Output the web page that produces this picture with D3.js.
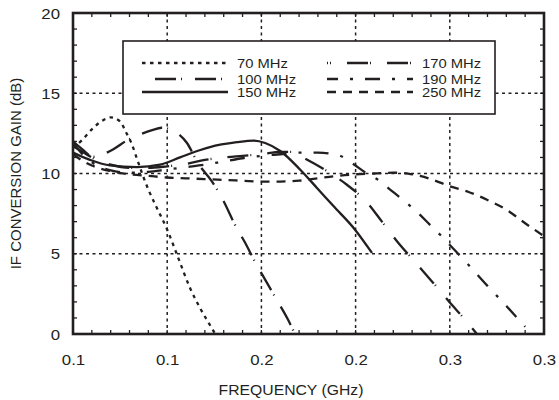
<!DOCTYPE html>
<html>
<head>
<meta charset="utf-8">
<script src="https://cdn.jsdelivr.net/npm/d3@7"></script>
<style>
  body { margin: 0; background: #fff; }
  text { font-family: "Liberation Sans", Arial, sans-serif; fill: #231f20; }
</style>
</head>
<body>
<div id="chart"></div>
<script>
// x tick values in GHz and the labels printed under them
const xTickValues = [0.05, 0.1, 0.15, 0.2, 0.25, 0.3];
const xTickLabels = ["0.1", "0.1", "0.2", "0.2", "0.3", "0.3"];
const yTickValues = [0, 5, 10, 15, 20];
const seriesNames = ["70 MHz", "100 MHz", "150 MHz", "170 MHz", "190 MHz", "250 MHz"];

// [frequency GHz, gain dB]
const if70 = [[0.05, 11.6], [0.055, 12.1], [0.06, 12.75], [0.065, 13.25], [0.07, 13.5],
  [0.075, 13.25], [0.078, 12.6], [0.081, 11.9], [0.084, 10.9], [0.087, 9.9], [0.09, 9.0],
  [0.0935, 8.1], [0.1, 6.5], [0.106, 4.7], [0.112, 2.9], [0.118, 1.5], [0.124, 0.3], [0.1255, 0]];
const if100 = [[0.05, 12.0], [0.055, 11.5], [0.0605, 11.05], [0.066, 11.2], [0.0712, 11.5],
  [0.0792, 12.1], [0.086, 12.45], [0.092, 12.7], [0.097, 12.85], [0.1025, 12.7], [0.1105, 11.9],
  [0.1163, 10.65], [0.1238, 9.5], [0.1296, 8.35], [0.136, 6.8], [0.1413, 5.7], [0.1466, 4.5],
  [0.1519, 3.4], [0.1583, 2.1], [0.1641, 0.9], [0.1678, 0]];
const if150 = [[0.05, 11.3], [0.059, 10.85], [0.0696, 10.5], [0.084, 10.4], [0.0962, 10.55],
  [0.1068, 11.0], [0.1172, 11.45], [0.1227, 11.65], [0.137, 11.95], [0.146, 12.05], [0.152, 11.9],
  [0.16, 11.4], [0.1705, 10.25], [0.1795, 9.1], [0.188, 8.0], [0.1997, 6.5], [0.2087, 5.05]];
const if170 = [[0.05, 11.7], [0.055, 11.35], [0.06, 11.0], [0.07, 10.55], [0.08, 10.35],
  [0.09, 10.35], [0.1, 10.45], [0.11, 10.6], [0.12, 10.85], [0.13, 11.0], [0.14, 11.1],
  [0.15, 11.2], [0.16, 11.35], [0.166, 11.35], [0.172, 11.0], [0.1848, 10.15], [0.1954, 9.3],
  [0.206, 8.2], [0.214, 7.0], [0.2225, 5.7], [0.2315, 4.5], [0.2411, 3.2], [0.249, 2.1],
  [0.2591, 0.75], [0.2644, 0]];
const if190 = [[0.05, 11.9], [0.055, 11.2], [0.06, 10.7], [0.07, 10.2], [0.08, 10.05],
  [0.09, 10.1], [0.1, 10.25], [0.11, 10.4], [0.12, 10.55], [0.13, 10.75], [0.14, 10.95],
  [0.15, 11.1], [0.16, 11.2], [0.17, 11.3], [0.18, 11.3], [0.1907, 11.15], [0.198, 10.65],
  [0.206, 10.0], [0.212, 9.6], [0.2183, 9.0], [0.2252, 8.35], [0.2326, 7.6], [0.2395, 6.8],
  [0.2464, 6.0], [0.25, 5.55], [0.26, 4.3], [0.27, 3.0], [0.28, 1.75], [0.29, 0.45]];
const if250 = [[0.05, 11.2], [0.055, 10.8], [0.06, 10.5], [0.07, 10.15], [0.08, 9.95],
  [0.09, 9.85], [0.1, 9.75], [0.11, 9.7], [0.12, 9.65], [0.13, 9.6], [0.14, 9.55], [0.15, 9.5],
  [0.16, 9.5], [0.17, 9.55], [0.18, 9.7], [0.19, 9.85], [0.2, 9.95], [0.21, 10.0], [0.22, 10.05],
  [0.23, 9.95], [0.24, 9.65], [0.25, 9.2], [0.26, 8.85], [0.27, 8.35], [0.28, 7.75],
  [0.29, 6.9], [0.3, 6.1]];

const seriesData = [if70, if100, if150, if170, if190, if250];

// line look per series (same order as seriesNames)
const dashes = ["3.5,4.5", "21,5,1,13", null, "21,2,1,16", "15,12,3,12", "9,7"];
const legendOffset = [0, 27, 0, 20, 4, 0];

function drawChart() {
  const margin = { top: 13, right: 15, bottom: 66, left: 73 };
  const width = 559 - margin.left - margin.right;
  const height = 400 - margin.top - margin.bottom;
  const ink = "#231f20";

  const svg = d3
    .select("#chart")
    .append("svg")
    .attr("width", 559)
    .attr("height", 400)
    .append("g")
    .attr("transform", `translate(${margin.left},${margin.top})`);

  const x = d3.scaleLinear([0.05, 0.3], [0, width]);
  const y = d3.scaleLinear([0, 20], [height, 0]);

  // dotted grid
  const grid = svg.append("g").attr("stroke", ink).attr("stroke-width", 1.5)
    .attr("stroke-dasharray", "3,3.5");
  grid.selectAll("line.gx")
    .data(xTickValues.slice(1, -1))
    .join("line")
    .attr("x1", (d) => x(d)).attr("x2", (d) => x(d))
    .attr("y1", 0).attr("y2", height);
  grid.selectAll("line.gy")
    .data(yTickValues.slice(1, -1))
    .join("line")
    .attr("class", "gy")
    .attr("x1", 0).attr("x2", width)
    .attr("y1", (d) => y(d)).attr("y2", (d) => y(d));

  // inside minor ticks on all four sides
  const ticks = svg.append("g").attr("stroke", ink).attr("stroke-width", 1.3);
  const xMinor = d3.range(0.06, 0.3, 0.01);
  const yMinor = d3.range(1, 20, 1);
  ticks.selectAll("line.tb").data(xMinor).join("line").attr("class", "tb")
    .attr("x1", (d) => x(d)).attr("x2", (d) => x(d)).attr("y1", height).attr("y2", height - 4);
  ticks.selectAll("line.tt").data(xMinor).join("line").attr("class", "tt")
    .attr("x1", (d) => x(d)).attr("x2", (d) => x(d)).attr("y1", 0).attr("y2", 4);
  ticks.selectAll("line.tl").data(yMinor).join("line").attr("class", "tl")
    .attr("y1", (d) => y(d)).attr("y2", (d) => y(d)).attr("x1", 0).attr("x2", 4);
  ticks.selectAll("line.tr").data(yMinor).join("line").attr("class", "tr")
    .attr("y1", (d) => y(d)).attr("y2", (d) => y(d)).attr("x1", width).attr("x2", width - 4);

  // curves
  svg.append("clipPath").attr("id", "clip")
    .append("rect").attr("width", width).attr("height", height);

  const line = d3.line()
    .x((d) => x(d[0]))
    .y((d) => y(d[1]))
    .curve(d3.curveMonotoneX);

  svg.append("g")
    .attr("clip-path", "url(#clip)")
    .selectAll("path")
    .data(seriesData)
    .join("path")
    .attr("d", line)
    .attr("fill", "none")
    .attr("stroke", ink)
    .attr("stroke-width", 2.3)
    .attr("stroke-dasharray", (d, i) => dashes[i]);

  // legend box
  const lg = svg.append("g");
  lg.append("rect")
    .attr("x", 50).attr("y", 28).attr("width", 372).attr("height", 73)
    .attr("fill", "#fff").attr("stroke", ink).attr("stroke-width", 1.6);
  const rows = [50, 66, 79];
  seriesNames.forEach((name, i) => {
    const col = Math.floor(i / 3);
    const ly = rows[i % 3];
    const lx = col === 0 ? 69 : 254;
    lg.append("line")
      .attr("x1", lx).attr("x2", lx + 86)
      .attr("y1", ly).attr("y2", ly)
      .attr("stroke", ink).attr("stroke-width", 2.5)
      .attr("stroke-dasharray", dashes[i])
      .attr("stroke-dashoffset", legendOffset[i]);
    lg.append("text")
      .attr("transform", `translate(${lx + 95},${ly + 4.5}) scale(1.23,1)`)
      .style("font-size", "12px")
      .text(name);
  });

  // frame
  svg.append("rect")
    .attr("width", width).attr("height", height)
    .attr("fill", "none").attr("stroke", ink).attr("stroke-width", 2.6);

  // axes: labels only
  const xAxis = svg.append("g")
    .attr("transform", `translate(0,${height})`)
    .call(d3.axisBottom(x).tickValues(xTickValues).tickFormat((d, i) => xTickLabels[i]).tickSize(0));
  xAxis.select(".domain").remove();
  xAxis.selectAll("text")
    .attr("y", null).attr("dy", null)
    .attr("transform", "translate(0,31) scale(1.2,1)")
    .style("font-size", "14px")
    .style("font-family", "'Liberation Sans', Arial, sans-serif")
    .attr("fill", ink);

  const yAxis = svg.append("g")
    .call(d3.axisLeft(y).tickValues(yTickValues).tickSize(0));
  yAxis.select(".domain").remove();
  yAxis.selectAll("text")
    .attr("x", null).attr("dy", null)
    .attr("transform", "translate(-13,5) scale(1.2,1)")
    .style("font-size", "14px")
    .style("font-family", "'Liberation Sans', Arial, sans-serif")
    .attr("fill", ink);

  svg.append("text")
    .attr("transform", `translate(${218 - margin.left + 73},${395 - margin.top}) scale(1.05,1)`)
    .attr("text-anchor", "middle")
    .style("font-size", "15px")
    .text("FREQUENCY (GHz)");

  svg.append("text")
    .attr("transform", `translate(${21 - margin.left},${height / 2}) rotate(-90)`)
    .attr("text-anchor", "middle")
    .style("font-size", "15px")
    .text("IF CONVERSION GAIN (dB)");
}

window.addEventListener("load", drawChart);
</script>
</body>
</html>
